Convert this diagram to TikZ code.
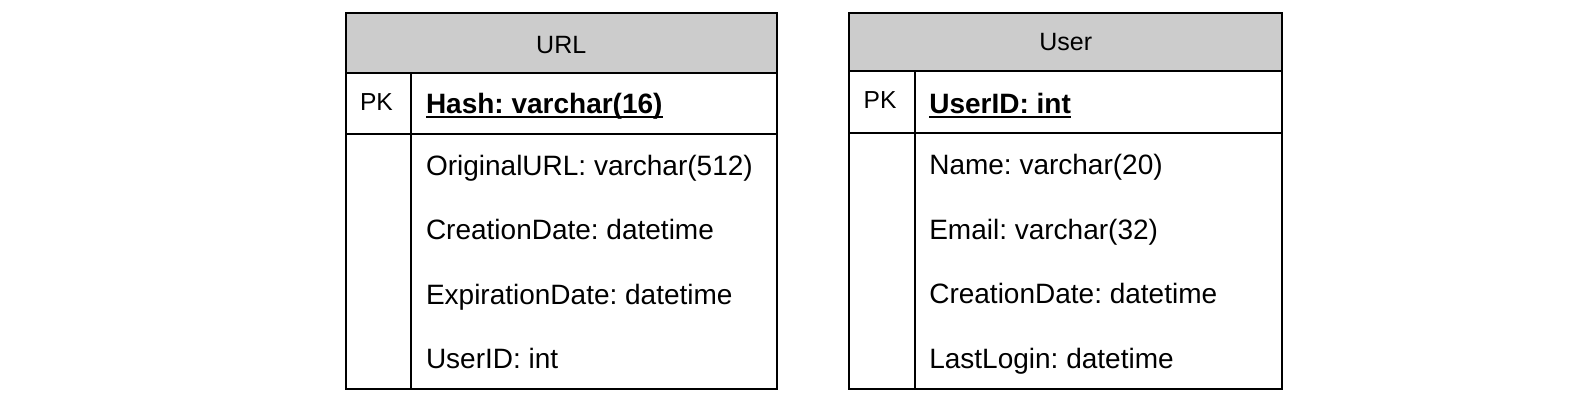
\documentclass[tikz,border=0pt]{standalone}
\usepackage{fontspec}
\setmainfont{Liberation Sans}
\frenchspacing
\definecolor{headgray}{RGB}{204,204,204}
\newcommand{\keyline}[1]{\setbox0\hbox{#1}\rlap{\vrule width\wd0 height -1.4pt depth 2.4pt}\box0}
\begin{document}
\begin{tikzpicture}[x=0.5pt,y=-0.5pt,line width=1pt,
		field/.style={anchor=base west,inner sep=0pt,font=\fontsize{14}{17}\selectfont},
		title/.style={anchor=base,inner sep=0pt,font=\fontsize{12.5}{15}\selectfont},
		pk/.style={anchor=base west,inner sep=0pt,font=\fontsize{12.3}{14}\selectfont}]
	\useasboundingbox (0,0) rectangle (1588,402);
	% URL table
	\draw[fill=headgray] (345.7,13.3) rectangle (776.7,72.7);
	\draw (345.7,72.7) rectangle (776.7,389.3);
	\draw (345.7,134.3)--(776.7,134.3)  (411.3,72.7)--(411.3,389.3);
	\node[title] (urltitle) at (561.2,53.3) {URL};
	\node[pk] (urlpk) at (359,110) {PK};
	\node[field] (urlkey) at (425,113.3) {\keyline{\bfseries Hash: varchar(16)}};
	\node[field] (urlorig) at (425,175) {OriginalURL: varchar(512)};
	\node[field] (urlcreate) at (425,239.5) {CreationDate: datetime};
	\node[field] (urlexpire) at (425,304) {ExpirationDate: datetime};
	\node[field] (urluser) at (425,368.5) {UserID: int};
	% User table
	\draw[fill=headgray] (849,13.3) rectangle (1282.3,71);
	\draw (849,71) rectangle (1282.3,389.3);
	\draw (849,133.3)--(1282.3,133.3)  (915,71)--(915,389.3);
	\node[title] (usertitle) at (1065.7,50.7) {User};
	\node[pk] (userpk) at (862.7,108.3) {PK};
	\node[field] (userkey) at (928.3,113.3) {\keyline{\bfseries UserID: int}};
	\node[field] (username) at (928.3,174) {Name: varchar(20)};
	\node[field] (usermail) at (928.3,239.3) {Email: varchar(32)};
	\node[field] (usercreate) at (928.3,303) {CreationDate: datetime};
	\node[field] (userlogin) at (928.3,368.3) {LastLogin: datetime};
\end{tikzpicture}
\end{document}
